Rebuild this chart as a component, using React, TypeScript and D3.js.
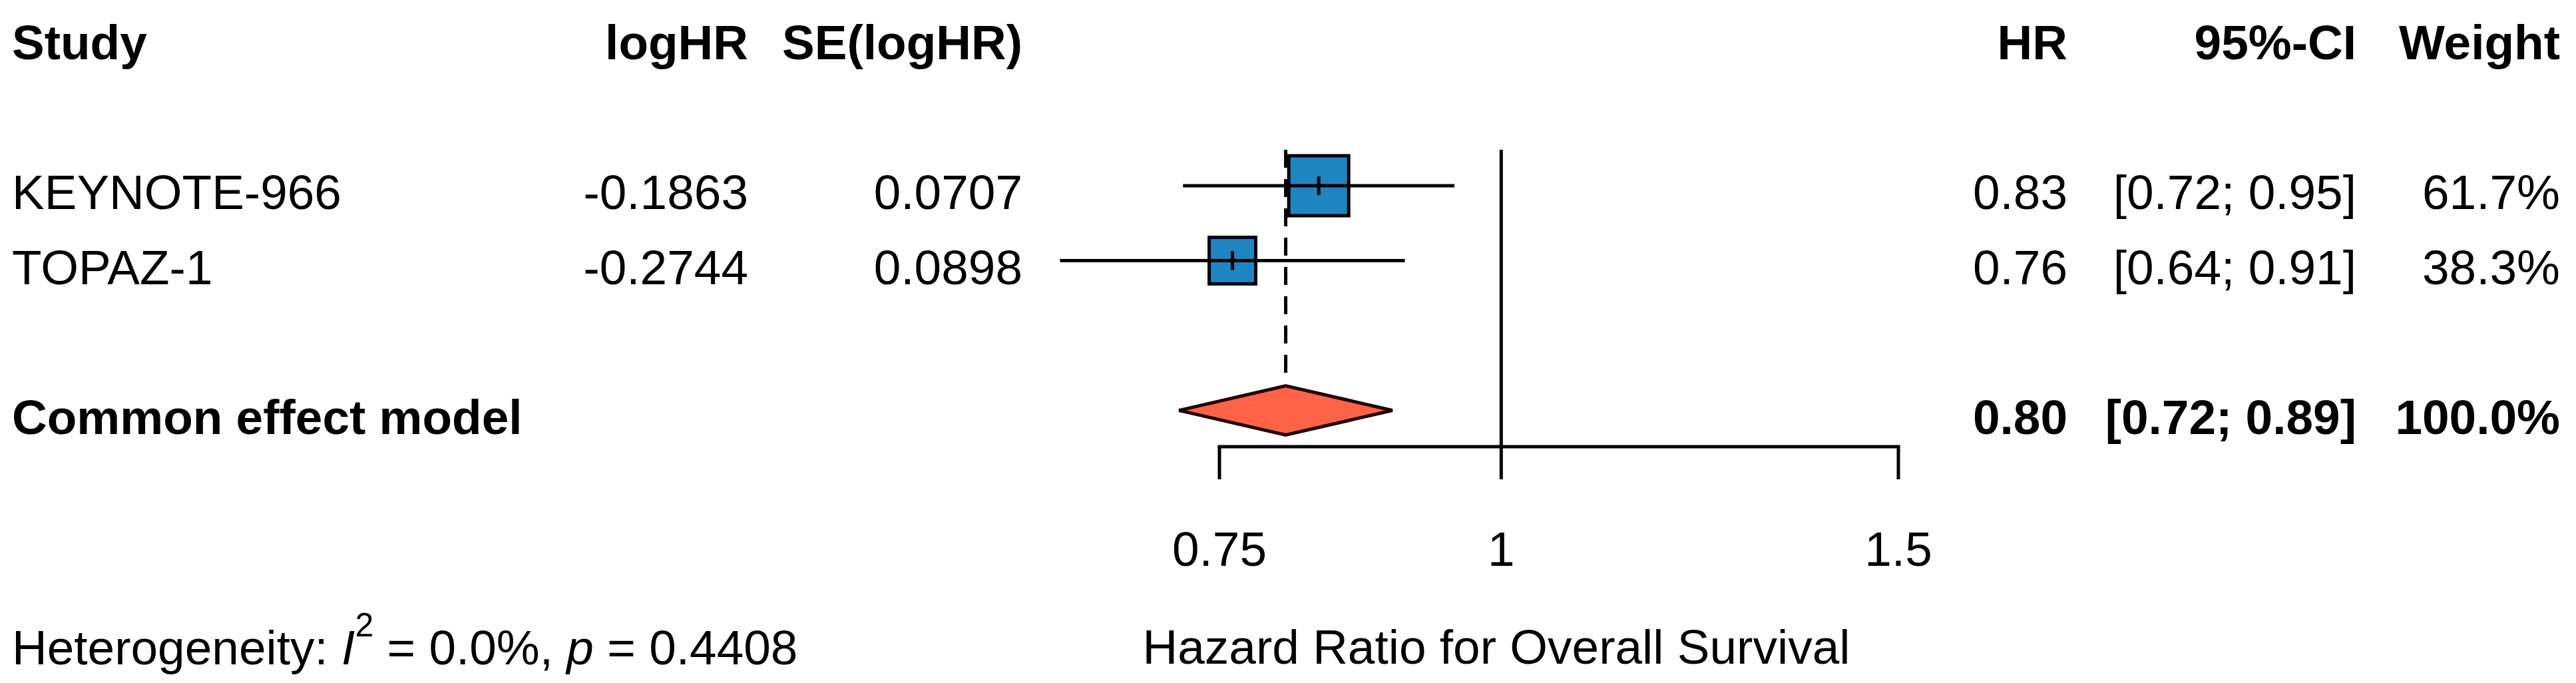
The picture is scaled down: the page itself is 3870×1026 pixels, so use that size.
import React from "react";
import * as d3 from "d3";

// ---- data ----
const studies = ["KEYNOTE-966", "TOPAZ-1"];
const logHR = [-0.1863, -0.2744];
const seLogHR = [0.0707, 0.0898];
const hrLabels = ["0.83", "0.76"];
const ciLabels = ["[0.72; 0.95]", "[0.64; 0.91]"];
const weights = [61.7, 38.3];
const weightLabels = ["61.7%", "38.3%"];

const pooledName = "Common effect model";
const pooledHR = 0.8025;
const pooledLower = 0.7197;
const pooledUpper = 0.8948;
const pooledLabels = ["0.80", "[0.72; 0.89]", "100.0%"];

const headers = ["Study", "logHR", "SE(logHR)", "HR", "95%-CI", "Weight"];
const axisTicks = [0.75, 1, 1.5];
const axisDomain = [0.75, 1.5];
const xLabel = "Hazard Ratio for Overall Survival";

const W = 3870;
const H = 1026;
const FONT = "'Liberation Sans', Arial, Helvetica, sans-serif";
const FS = 73;
const LW = 5;

export default function App() {
  const x = d3.scaleLog().domain(axisDomain).range([1832, 2852]);
  const rowY = (i: number) => 54 + i * 112.5;
  const tb = 35; // text baseline offset from row centre

  const colX = {
    study: 18,
    logHR: 1124,
    se: 1536,
    hr: 3106,
    ci: 3540,
    weight: 3846,
  };

  const plotTop = 225;
  const axisY = 671;
  const pooledY = rowY(5);
  const dh = 37;

  const diamond = d3.line()([
    [x(pooledLower), pooledY],
    [x(pooledHR), pooledY - dh],
    [x(pooledUpper), pooledY],
    [x(pooledHR), pooledY + dh],
  ]) + "Z";

  const fmt = (v: number) => v.toFixed(4);
  const tickFmt = (v: number) => String(v);

  return (
    <svg
      width={W}
      height={H}
      style={{ position: "absolute", left: 0, top: 0, display: "block", background: "#fff" }}
      fontFamily={FONT}
      fontSize={FS}
    >
      <rect x={0} y={0} width={W} height={H} fill="#fff" />

      {/* headers */}
      <g fontWeight="bold" fill="#000">
        <text x={colX.study} y={rowY(0) + tb}>{headers[0]}</text>
        <text x={colX.logHR} y={rowY(0) + tb} textAnchor="end">{headers[1]}</text>
        <text x={colX.se} y={rowY(0) + tb} textAnchor="end">{headers[2]}</text>
        <text x={colX.hr} y={rowY(0) + tb} textAnchor="end">{headers[3]}</text>
        <text x={colX.ci} y={rowY(0) + tb} textAnchor="end">{headers[4]}</text>
        <text x={colX.weight} y={rowY(0) + tb} textAnchor="end">{headers[5]}</text>
      </g>

      {/* study rows text */}
      {studies.map((s, i) => {
        const y = rowY(2 + i) + tb;
        return (
          <g key={s} fill="#000">
            <text x={colX.study} y={y}>{s}</text>
            <text x={colX.logHR} y={y} textAnchor="end">{fmt(logHR[i])}</text>
            <text x={colX.se} y={y} textAnchor="end">{fmt(seLogHR[i])}</text>
            <text x={colX.hr} y={y} textAnchor="end">{hrLabels[i]}</text>
            <text x={colX.ci} y={y} textAnchor="end">{ciLabels[i]}</text>
            <text x={colX.weight} y={y} textAnchor="end">{weightLabels[i]}</text>
          </g>
        );
      })}

      {/* pooled row text */}
      <g fontWeight="bold" fill="#000">
        <text x={colX.study} y={pooledY + tb}>{pooledName}</text>
        <text x={colX.hr} y={pooledY + tb} textAnchor="end">{pooledLabels[0]}</text>
        <text x={colX.ci} y={pooledY + tb} textAnchor="end">{pooledLabels[1]}</text>
        <text x={colX.weight} y={pooledY + tb} textAnchor="end">{pooledLabels[2]}</text>
      </g>

      {/* reference line at 1 */}
      <line x1={x(1)} x2={x(1)} y1={plotTop} y2={axisY} stroke="#000" strokeWidth={LW} />
      {/* pooled dashed line */}
      <line
        x1={x(pooledHR)}
        x2={x(pooledHR)}
        y1={plotTop}
        y2={pooledY - dh - 5}
        stroke="#000"
        strokeWidth={LW}
        strokeDasharray="27 17"
      />

      {/* study squares and CIs */}
      {studies.map((s, i) => {
        const y = rowY(2 + i);
        const est = Math.exp(logHR[i]);
        const lo = Math.exp(logHR[i] - 1.96 * seLogHR[i]);
        const hi = Math.exp(logHR[i] + 1.96 * seLogHR[i]);
        const side = 12.1 * Math.sqrt(weights[i]) - LW;
        const cx = x(est);
        return (
          <g key={"m" + s}>
            <rect
              x={cx - side / 2}
              y={y - side / 2}
              width={side}
              height={side}
              fill="#1f84c2"
              stroke="#000"
              strokeWidth={LW}
            />
            <line x1={x(lo)} x2={x(hi)} y1={y} y2={y} stroke="#000" strokeWidth={LW} />
            <line x1={cx} x2={cx} y1={y - 14} y2={y + 14} stroke="#000" strokeWidth={LW} />
          </g>
        );
      })}

      {/* pooled diamond */}
      <path d={diamond} fill="#ff6347" stroke="#200000" strokeWidth={LW} strokeLinejoin="miter" />

      {/* axis */}
      <line x1={x(axisDomain[0])} x2={x(axisDomain[1])} y1={axisY} y2={axisY} stroke="#000" strokeWidth={LW} strokeLinecap="square" />
      {axisTicks.map((t) => (
        <g key={"t" + t}>
          <line x1={x(t)} x2={x(t)} y1={axisY} y2={720} stroke="#000" strokeWidth={LW} />
          <text x={x(t)} y={850} textAnchor="middle" fill="#000">{tickFmt(t)}</text>
        </g>
      ))}
      <text x={2248} y={997} textAnchor="middle" fill="#000">{xLabel}</text>

      {/* heterogeneity */}
      <text x={colX.study} y={998} fill="#000">
        <tspan>Heterogeneity: </tspan>
        <tspan fontStyle="italic">I</tspan>
        <tspan fontSize={50} dy={-42}>2</tspan>
        <tspan dy={42}> = 0.0%, </tspan>
        <tspan fontStyle="italic">p</tspan>
        <tspan> = 0.4408</tspan>
      </text>
    </svg>
  );
}
